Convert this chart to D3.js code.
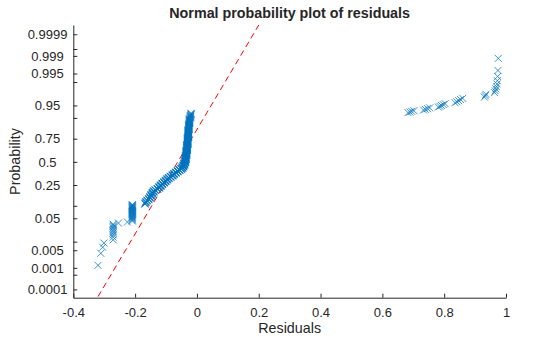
<!DOCTYPE html>
<html>
<head>
<meta charset="utf-8">
<script src="https://cdn.jsdelivr.net/npm/d3@7"></script>
<style>
body { margin: 0; background: #fff; }
text { font-family: "Liberation Sans", Arial, Helvetica, sans-serif; fill: #262626; }
</style>
</head>
<body>
<svg id="chart" width="560" height="337"></svg>
<script>
// residuals, as [value, number of points at that value]
var lowerTail = [[-0.320,1],[-0.311,1],[-0.305,1],[-0.301,1],[-0.271,10],[-0.254,1],[-0.225,1],[-0.209,26]];
var slopeRuns = [[-0.168,3],[-0.165,4],[-0.161,3],[-0.156,4],[-0.152,5],[-0.148,6],[-0.144,6],[-0.140,5],
                 [-0.135,4],[-0.128,4],[-0.122,6],[-0.117,6],[-0.112,6],[-0.106,6],[-0.101,6],[-0.096,6],
                 [-0.091,5],[-0.085,5],[-0.079,6],[-0.074,6],[-0.068,6],[-0.062,6],[-0.056,5],[-0.051,5],[-0.047,6]];
var stackRuns = [[-0.044,8],[-0.041,10],[-0.038,14],[-0.036,20],[-0.034,22],[-0.032,24],[-0.030,26],
                 [-0.028,26],[-0.026,16],[-0.024,12],[-0.021,6],[-0.019,4]];
// the separate group on the right, one point each
var upperGroup = [0.683,0.689,0.695,0.702,0.733,0.739,0.746,0.753,0.781,0.786,0.791,0.797,0.803,
                  0.835,0.841,0.847,0.853,0.860,0.930,0.933,0.935,0.963,0.965,0.967,0.969,0.971,
                  0.972,0.973,0.974,0.975];

var probTicks  = [0.0001,0.0005,0.001,0.005,0.01,0.05,0.1,0.25,0.5,0.75,0.9,0.95,0.99,0.995,0.999,0.9995,0.9999];
var probLabels = ["0.0001","","0.001","0.005","","0.05","","0.25","0.5","0.75","","0.95","","0.995","0.999","","0.9999"];
var xTicks = [-0.4,-0.2,0,0.2,0.4,0.6,0.8,1];
var refLine = { mu: -0.062, sigma: 0.0657 };   // dashed reference line

// inverse normal cdf (Acklam)
function norminv(p){
  var a=[-3.969683028665376e+01,2.209460984245205e+02,-2.759285104469687e+02,1.383577518672690e+02,-3.066479806614716e+01,2.506628277459239e+00];
  var b=[-5.447609879822406e+01,1.615858368580409e+02,-1.556989798598866e+02,6.680131188771972e+01,-1.328068155288572e+01];
  var c=[-7.784894002430293e-03,-3.223964580411365e-01,-2.400758277161838e+00,-2.549732539343734e+00,4.374664141464968e+00,2.938163982698783e+00];
  var d=[7.784695709041462e-03,3.224671290700398e-01,2.445134137142996e+00,3.754408661907416e+00];
  var pl=0.02425, q, r;
  if(p<pl){ q=Math.sqrt(-2*Math.log(p)); return (((((c[0]*q+c[1])*q+c[2])*q+c[3])*q+c[4])*q+c[5])/((((d[0]*q+d[1])*q+d[2])*q+d[3])*q+1); }
  if(p>1-pl){ q=Math.sqrt(-2*Math.log(1-p)); return -(((((c[0]*q+c[1])*q+c[2])*q+c[3])*q+c[4])*q+c[5])/((((d[0]*q+d[1])*q+d[2])*q+d[3])*q+1); }
  q=p-0.5; r=q*q;
  return (((((a[0]*r+a[1])*r+a[2])*r+a[3])*r+a[4])*r+a[5])*q/(((((b[0]*r+b[1])*r+b[2])*r+b[3])*r+b[4])*r+1);
}

var residuals = [];
lowerTail.concat(slopeRuns, stackRuns).forEach(function(r){
  for (var k = 0; k < r[1]; k++) residuals.push(r[0]);
});
upperGroup.forEach(function(v){ residuals.push(v); });
residuals.sort(d3.ascending);
var n = residuals.length;
var points = residuals.map(function(v, i){ return { x: v, z: norminv((i + 0.5) / n) }; });

var plotL = 73.3, plotR = 506, plotT = 25, plotB = 297.7;
var svg = d3.select("#chart");

var x = d3.scaleLinear().domain([-0.4, 1]).range([plotL, plotR]);
var y = d3.scaleLinear().domain([-3.96, 3.99]).range([plotB, plotT]);

svg.append("defs").append("clipPath").attr("id", "plotClip")
  .append("rect").attr("x", plotL).attr("y", plotT).attr("width", plotR - plotL).attr("height", plotB - plotT);

// axes
var xAxis = svg.append("g").attr("transform", "translate(0," + plotB + ")")
  .call(d3.axisBottom(x).tickValues(xTicks).tickSize(-4).tickSizeOuter(0).tickFormat(function(d){ return String(d); }));
xAxis.attr("font-size", 13).attr("font-family", null);
xAxis.selectAll("text").attr("y", 19).attr("dy", null);

var yAxis = svg.append("g").attr("transform", "translate(" + plotL + ",0)")
  .call(d3.axisLeft(y).tickValues(probTicks.map(norminv)).tickSize(-4).tickSizeOuter(0)
    .tickFormat(function(d, i){ return probLabels[i]; }));
yAxis.attr("font-size", 13).attr("font-family", null);
yAxis.selectAll("text").attr("x", 47.5 - plotL).attr("text-anchor", "middle");

svg.selectAll(".domain, .tick line").attr("stroke", "#262626").attr("stroke-width", 1);

// reference line through the data range
var x0 = d3.min(residuals), x1 = d3.max(residuals);
svg.append("line").attr("clip-path", "url(#plotClip)")
  .attr("x1", x(x0)).attr("y1", y((x0 - refLine.mu) / refLine.sigma))
  .attr("x2", x(x1)).attr("y2", y((x1 - refLine.mu) / refLine.sigma))
  .attr("stroke", "#ff0000").attr("stroke-width", 1).attr("stroke-dasharray", "6,4");

// x markers
svg.append("g").attr("clip-path", "url(#plotClip)")
  .selectAll("path").data(points).enter().append("path")
  .attr("transform", function(d){ return "translate(" + x(d.x) + "," + y(d.z) + ")"; })
  .attr("d", "M-3.5,-3.5L3.5,3.5M-3.5,3.5L3.5,-3.5")
  .attr("fill", "none").attr("stroke", "#0072bd").attr("stroke-width", 0.75);

// labels
svg.append("text").attr("x", (plotL + plotR) / 2).attr("y", 18).attr("text-anchor", "middle")
  .style("font-size", "14.3px").style("font-weight", "bold").text("Normal probability plot of residuals");
svg.append("text").attr("x", (plotL + plotR) / 2).attr("y", 333).attr("text-anchor", "middle")
  .style("font-size", "14.3px").text("Residuals");
svg.append("text").attr("transform", "translate(19.5,161.5) rotate(-90)").attr("text-anchor", "middle")
  .style("font-size", "14.3px").text("Probability");
</script>
</body>
</html>
